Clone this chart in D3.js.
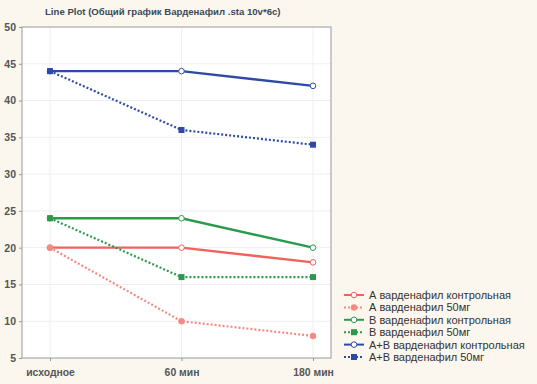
<!doctype html>
<html lang="ru">
<head>
  <meta charset="utf-8">
  <title>Line Plot</title>
  <script src="https://cdn.jsdelivr.net/npm/d3@7"></script>
  <style>
    body { margin: 0; background: #fbf7ee; }
    svg { display: block; font-family: "Liberation Sans", Arial, sans-serif; }
  </style>
</head>
<body>
<svg id="chart" width="537" height="384"></svg>
<script>
  //
  // Data
  //
  var categories = ['исходное', '60 мин', '180 мин']
  var yTicks = [5, 10, 15, 20, 25, 30, 35, 40, 45, 50]
  var seriesNames = [
    'А варденафил контрольная',
    'А варденафил 50мг',
    'В варденафил контрольная',
    'В варденафил 50мг',
    'А+В варденафил контрольная',
    'А+В варденафил 50мг'
  ]
  var aControl = [20, 20, 18]
  var a50 = [20, 10, 8]
  var bControl = [24, 24, 20]
  var b50 = [24, 16, 16]
  var abControl = [44, 44, 42]
  var ab50 = [44, 36, 34]

  //
  // Styles
  //
  var colorRed = '#f0625c'
  var colorRedLight = '#f58a85'
  var colorGreen = '#2b9a4c'
  var colorBlue = '#2f4aa6'

  var series = [
    { name: seriesNames[0], values: aControl, color: colorRed, dash: null, marker: 'open' },
    { name: seriesNames[1], values: a50, color: colorRedLight, dash: '2,2', marker: 'circle' },
    { name: seriesNames[2], values: bControl, color: colorGreen, dash: null, marker: 'open' },
    { name: seriesNames[3], values: b50, color: colorGreen, dash: '2,2', marker: 'square' },
    { name: seriesNames[4], values: abControl, color: colorBlue, dash: null, marker: 'open' },
    { name: seriesNames[5], values: ab50, color: colorBlue, dash: '2,2', marker: 'square' }
  ]

  //
  // Layout
  //
  var svg = d3.select('#chart')
  var plotLeft = 22, plotRight = 331, plotTop = 27, plotBottom = 358

  var x = d3.scalePoint().domain(categories).range([50, 313])
  var y = d3.scaleLinear().domain([5, 50]).range([plotBottom, plotTop])

  svg.append('rect')
    .attr('x', plotLeft).attr('y', plotTop)
    .attr('width', plotRight - plotLeft).attr('height', plotBottom - plotTop)
    .attr('fill', '#ffffff')

  // grid
  svg.append('g').selectAll('line').data(yTicks.slice(1, -1)).join('line')
    .attr('x1', plotLeft).attr('x2', plotRight)
    .attr('y1', function (d) { return y(d) }).attr('y2', function (d) { return y(d) })
    .attr('stroke', '#efefef').attr('stroke-width', 1)
  svg.append('g').selectAll('line').data(categories).join('line')
    .attr('x1', function (d) { return x(d) }).attr('x2', function (d) { return x(d) })
    .attr('y1', plotTop).attr('y2', plotBottom)
    .attr('stroke', '#f0f0f0').attr('stroke-width', 1)

  svg.append('rect')
    .attr('x', plotLeft).attr('y', plotTop)
    .attr('width', plotRight - plotLeft).attr('height', plotBottom - plotTop)
    .attr('fill', 'none').attr('stroke', '#9a9a9a').attr('stroke-width', 1)

  // axes
  var yAxis = svg.append('g')
    .attr('transform', 'translate(' + plotLeft + ',0)')
    .call(d3.axisLeft(y).tickValues(yTicks).tickSize(3).tickPadding(3))
  var xAxis = svg.append('g')
    .attr('transform', 'translate(0,' + plotBottom + ')')
    .call(d3.axisBottom(x).tickSize(3).tickPadding(8))
  ;[yAxis, xAxis].forEach(function (ax) {
    ax.select('.domain').remove()
    ax.selectAll('line').attr('stroke', '#999')
    ax.selectAll('text').attr('fill', '#555').attr('font-size', 10.4)
      .attr('font-weight', 'bold')
  })
  yAxis.selectAll('text').attr('font-size', 10.5)

  // title
  svg.append('text')
    .attr('x', 45).attr('y', 15)
    .attr('font-size', 9.6).attr('font-weight', 'bold').attr('fill', '#3a4a5a')
    .text('Line Plot (Общий график Варденафил .sta 10v*6c)')

  // lines
  var line = d3.line()
    .x(function (d, i) { return x(categories[i]) })
    .y(function (d) { return y(d) })

  function drawMarker(g, m, color, cx, cy) {
    if (m === 'square') {
      g.append('rect').attr('x', cx - 3).attr('y', cy - 3).attr('width', 6).attr('height', 6)
        .attr('fill', color)
    } else if (m === 'circle') {
      g.append('circle').attr('cx', cx).attr('cy', cy).attr('r', 3.2).attr('fill', color)
    } else {
      g.append('circle').attr('cx', cx).attr('cy', cy).attr('r', 2.8)
        .attr('fill', '#fff').attr('stroke', color).attr('stroke-width', 1)
    }
  }

  series.forEach(function (s) {
    var g = svg.append('g')
    g.append('path')
      .attr('d', line(s.values))
      .attr('fill', 'none')
      .attr('stroke', s.color)
      .attr('stroke-width', s.dash ? 2.2 : 2.4)
      .attr('stroke-dasharray', s.dash)
    s.values.forEach(function (v, i) {
      drawMarker(g, s.marker, s.color, x(categories[i]), y(v))
    })
  })

  // legend
  var legend = svg.append('g').attr('transform', 'translate(344,295)')
  series.forEach(function (s, i) {
    var row = legend.append('g').attr('transform', 'translate(0,' + (i * 12.4) + ')')
    row.append('line')
      .attr('x1', 0).attr('x2', 20).attr('y1', 0).attr('y2', 0)
      .attr('stroke', s.color).attr('stroke-width', 2)
      .attr('stroke-dasharray', s.dash)
    drawMarker(row, s.marker, s.color, 10, 0)
    row.append('text')
      .attr('x', 25).attr('y', 4)
      .attr('font-size', 11).attr('fill', '#333')
      .text(s.name)
  })
</script>
</body>
</html>
